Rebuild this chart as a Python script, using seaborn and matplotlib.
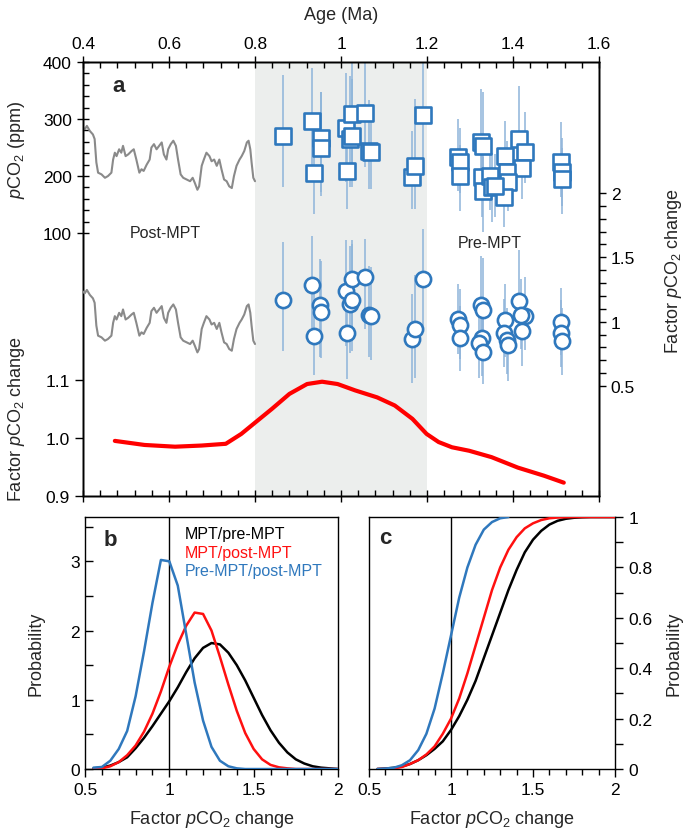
#!/usr/bin/env python3
"""
pCO2 across the Mid-Pleistocene Transition (panels a, b, c).
Values were read off the reference figure by eye.
"""

import matplotlib
matplotlib.use("Agg")
import matplotlib.pyplot as plt
import matplotlib.ticker as mticker
import seaborn as sns


# Global style
sns.set_theme(style="ticks")
plt.rcParams["font.family"] = ["Liberation Sans", "DejaVu Sans"]
plt.rcParams["mathtext.fontset"] = "custom"
plt.rcParams["mathtext.rm"] = "Liberation Sans"
plt.rcParams["mathtext.it"] = "Liberation Sans:italic"
plt.rcParams["axes.edgecolor"] = "black"
plt.rcParams["axes.linewidth"] = 1.0
plt.rcParams["xtick.color"] = "black"
plt.rcParams["ytick.color"] = "black"

BLUE = "#2f78bd"
ERR_BLUE = "#8eb4da"
GREY = "#8a8a8a"
SHADE = "#eceeed"

# ---- ice core record (0.4-0.8 Ma) ----
ICE_AGE = [0.400, 0.404, 0.409, 0.416, 0.423, 0.427, 0.431, 0.435, 0.443, 0.451,
           0.458, 0.466, 0.470, 0.474, 0.478, 0.484, 0.489, 0.493, 0.499, 0.505,
           0.513, 0.518, 0.524, 0.531, 0.536, 0.541, 0.548, 0.555, 0.559, 0.565,
           0.571, 0.577, 0.583, 0.588, 0.594, 0.598, 0.604, 0.610, 0.616, 0.621,
           0.627, 0.633, 0.641, 0.649, 0.655, 0.660, 0.666, 0.670, 0.676, 0.681,
           0.687, 0.694, 0.699, 0.705, 0.711, 0.717, 0.722, 0.728, 0.734, 0.740,
           0.746, 0.751, 0.757, 0.764, 0.769, 0.775, 0.781, 0.785, 0.789, 0.792,
           0.796, 0.800]
ICE_PCO2 = [285, 282, 288, 279, 273, 265, 224, 206, 203, 197,
            200, 206, 229, 241, 235, 247, 241, 253, 235, 238,
            244, 247, 229, 206, 212, 209, 220, 229, 250, 256,
            247, 253, 259, 238, 229, 247, 256, 262, 253, 229,
            203, 197, 194, 191, 197, 188, 176, 182, 218, 229,
            241, 235, 226, 229, 218, 229, 212, 194, 191, 182,
            179, 200, 218, 229, 235, 244, 259, 262, 247, 224,
            197, 191]
POST_MPT_MEAN = 231  # ppm, normaliser of the factor-change axis

# ---- boron pCO2 (squares) ----
B_AGE = [0.864, 0.933, 0.953, 0.953, 0.937, 1.011, 1.025, 1.020, 1.026, 1.015,
         1.055, 1.064, 1.069, 1.164, 1.171, 1.190, 1.271, 1.277, 1.277, 1.326,
         1.331, 1.327, 1.331, 1.347, 1.350, 1.381, 1.414, 1.428, 1.422, 1.385,
         1.389, 1.379, 1.358, 1.512, 1.513, 1.515]
B_PCO2 = [271, 297, 267, 249, 205, 285, 308, 265, 270, 209,
          311, 244, 242, 199, 218, 307, 234, 225, 200, 260,
          253, 199, 174, 200, 180, 236, 265, 243, 214, 207,
          189, 164, 183, 224, 207, 195]
B_ERR_UP = [106, 92, 80, 98, 85, 95, 90, 110, 100, 80,
            89, 90, 85, 80, 117, 93, 66, 60, 55, 93,
            95, 60, 60, 65, 60, 60, 93, 70, 60, 55,
            55, 50, 55, 71, 60, 55]
B_ERR_DN = [90, 90, 95, 84, 72, 95, 110, 85, 90, 67,
            95, 67, 65, 57, 76, 100, 60, 55, 61, 50,
            55, 70, 72, 60, 60, 55, 50, 55, 55, 60,
            50, 54, 55, 60, 60, 62]

# ---- factor pCO2 change (circles) ----
F_AGE = [0.864, 0.932, 0.952, 0.953, 0.937, 1.011, 1.025, 1.020, 1.026, 1.015,
         1.055, 1.064, 1.069, 1.164, 1.171, 1.190,
         1.271, 1.277, 1.277, 1.326, 1.331, 1.327, 1.322, 1.331,
         1.381, 1.379, 1.385, 1.389, 1.414, 1.428, 1.419, 1.422,
         1.511, 1.511, 1.513]
F_VAL = [1.171, 1.287, 1.126, 1.075, 0.889, 1.235, 1.328, 1.140, 1.171, 0.915,
         1.344, 1.054, 1.044, 0.868, 0.940, 1.328,
         1.023, 0.977, 0.874, 1.132, 1.093, 0.876, 0.835, 0.765,
         1.010, 0.915, 0.855, 0.822, 1.157, 1.044, 1.050, 0.925,
         0.995, 0.910, 0.853]
F_ERR_UP = [0.45, 0.38, 0.36, 0.40, 0.35, 0.40, 0.31, 0.45, 0.43, 0.35,
            0.30, 0.38, 0.38, 0.35, 0.42, 0.39,
            0.27, 0.28, 0.25, 0.38, 0.40, 0.28, 0.26, 0.27,
            0.28, 0.26, 0.25, 0.24, 0.40, 0.30, 0.28, 0.26,
            0.27, 0.26, 0.25]
F_ERR_DN = [0.40, 0.38, 0.40, 0.36, 0.30, 0.42, 0.45, 0.38, 0.40, 0.36,
            0.40, 0.33, 0.34, 0.34, 0.38, 0.37,
            0.27, 0.27, 0.26, 0.26, 0.27, 0.30, 0.27, 0.25,
            0.28, 0.27, 0.26, 0.28, 0.28, 0.26, 0.26, 0.27,
            0.25, 0.26, 0.27]

# ---- smoothed factor change (red) ----
R_AGE = [0.474, 0.543, 0.614, 0.676, 0.732, 0.768, 0.801, 0.839, 0.880, 0.921,
         0.956, 0.992, 1.033, 1.084, 1.125, 1.166, 1.199, 1.227, 1.258, 1.298,
         1.350, 1.411, 1.472, 1.518]
R_VAL = [0.995, 0.988, 0.985, 0.987, 0.990, 1.007, 1.027, 1.050, 1.076, 1.093,
         1.097, 1.093, 1.082, 1.070, 1.056, 1.033, 1.007, 0.993, 0.984, 0.978,
         0.967, 0.949, 0.935, 0.923]

# ---- panels b and c ----
FACTOR = [0.55, 0.60, 0.65, 0.70, 0.75, 0.80, 0.85, 0.90, 0.95, 1.00,
          1.05, 1.10, 1.15, 1.20, 1.25, 1.30, 1.35, 1.40, 1.45, 1.50,
          1.55, 1.60, 1.65, 1.70, 1.75, 1.80, 1.85, 1.90, 1.95, 2.00]
PDF_MPT_PRE = [0.01, 0.02, 0.05, 0.10, 0.17, 0.30, 0.45, 0.62, 0.80, 0.98,
               1.18, 1.40, 1.60, 1.75, 1.82, 1.80, 1.68, 1.50, 1.28, 1.03,
               0.78, 0.56, 0.38, 0.24, 0.14, 0.08, 0.04, 0.02, 0.01, 0.00]
PDF_MPT_POST = [0.00, 0.01, 0.04, 0.10, 0.20, 0.34, 0.54, 0.80, 1.12, 1.48,
                1.80, 2.07, 2.26, 2.24, 2.00, 1.62, 1.22, 0.84, 0.52, 0.29,
                0.14, 0.06, 0.025, 0.01, 0.00, 0.00, 0.00, 0.00, 0.00, 0.00]
PDF_PRE_POST = [0.02, 0.03, 0.12, 0.29, 0.55, 1.05, 1.70, 2.40, 3.02, 3.00,
                2.65, 1.95, 1.25, 0.70, 0.32, 0.12, 0.04, 0.01, 0.00, 0.00,
                0.00, 0.00, 0.00, 0.00, 0.00, 0.00, 0.00, 0.00, 0.00, 0.00]
CDF_MPT_PRE = [0.0, 0.002, 0.005, 0.01, 0.02, 0.035, 0.055, 0.08, 0.11, 0.155,
               0.21, 0.275, 0.35, 0.44, 0.53, 0.62, 0.71, 0.79, 0.86, 0.91,
               0.945, 0.97, 0.985, 0.993, 0.997, 0.999, 1.0, 1.0, 1.0, 1.0]
CDF_MPT_POST = [0.0, 0.001, 0.003, 0.008, 0.02, 0.035, 0.058, 0.09, 0.14, 0.20,
                0.28, 0.38, 0.49, 0.60, 0.71, 0.80, 0.87, 0.92, 0.955, 0.975,
                0.988, 0.995, 0.998, 0.999, 1.0, 1.0, 1.0, 1.0, 1.0, 1.0]
CDF_PRE_POST = [0.0, 0.002, 0.005, 0.015, 0.035, 0.075, 0.14, 0.24, 0.38, 0.53,
                0.68, 0.80, 0.89, 0.95, 0.98, 0.995, 1.0]

SERIES = [
    ("MPT/pre-MPT", "black", PDF_MPT_PRE, CDF_MPT_PRE),
    ("MPT/post-MPT", "#ff1010", PDF_MPT_POST, CDF_MPT_POST),
    ("Pre-MPT/post-MPT", BLUE, PDF_PRE_POST, CDF_PRE_POST),
]

FACTOR_LABEL = r"Factor $p$CO$_2$ change"
fmt_g = mticker.FuncFormatter(lambda v, _: f"{v:g}")


def line(ax, x, y, color, lw, z=3):
    sns.lineplot(x=x, y=y, ax=ax, color=color, linewidth=lw, sort=False,
                 estimator=None, zorder=z)


fig = plt.figure(figsize=(6.85, 8.37), dpi=100)

# Panel a
ax_a = fig.add_axes([0.1212, 0.4062, 0.7533, 0.5185])
ax_f = ax_a.twinx()
ax_r = ax_a.twinx()

ax_a.axvspan(0.8, 1.2, color=SHADE, zorder=0, lw=0)
line(ax_a, ICE_AGE, ICE_PCO2, GREY, 1.5)
ax_a.vlines(B_AGE, [p - d for p, d in zip(B_PCO2, B_ERR_DN)],
            [p + u for p, u in zip(B_PCO2, B_ERR_UP)],
            color=ERR_BLUE, lw=1.1, zorder=2)
sns.scatterplot(x=B_AGE, y=B_PCO2, ax=ax_a, marker="s", s=135, color="white",
                edgecolor=BLUE, linewidth=1.9, zorder=4)

ice_factor = [v / POST_MPT_MEAN for v in ICE_PCO2]
line(ax_r, ICE_AGE, ice_factor, GREY, 1.5)
ax_r.vlines(F_AGE, [v - d for v, d in zip(F_VAL, F_ERR_DN)],
            [v + u for v, u in zip(F_VAL, F_ERR_UP)],
            color=ERR_BLUE, lw=1.1, zorder=2)
sns.scatterplot(x=F_AGE, y=F_VAL, ax=ax_r, marker="o", s=120, color="white",
                edgecolor=BLUE, linewidth=1.9, zorder=4)

line(ax_f, R_AGE, R_VAL, "#ff0000", 3.0)

ax_a.set_xlim(0.4, 1.6)
ax_a.set_ylim(-361, 400)
ax_f.set_ylim(0.9, 1.648)
ax_r.set_ylim(-0.353, 3.016)

ax_a.xaxis.set_major_locator(mticker.FixedLocator([0.4, 0.6, 0.8, 1.0, 1.2, 1.4, 1.6]))
ax_a.xaxis.set_minor_locator(mticker.MultipleLocator(0.04))
ax_a.xaxis.set_major_formatter(fmt_g)
ax_a.tick_params(axis="x", which="both", top=True, bottom=True,
                 labeltop=True, labelbottom=False, labelsize=12.5)
ax_a.tick_params(axis="x", which="major", direction="inout", length=9, width=1)
ax_a.tick_params(axis="x", which="minor", direction="in", length=4, width=1)
ax_a.xaxis.set_label_position("top")
ax_a.set_xlabel("Age (Ma)", fontsize=13, labelpad=12)

ax_a.yaxis.set_major_locator(mticker.FixedLocator([100, 200, 300, 400]))
ax_a.yaxis.set_minor_locator(mticker.FixedLocator(list(range(100, 401, 20))))
ax_a.tick_params(axis="y", which="both", left=True, right=False, labelsize=12.5)
ax_a.tick_params(axis="y", which="major", direction="inout", length=9, width=1)
ax_a.tick_params(axis="y", which="minor", direction="in", length=4, width=1)
ax_a.set_ylabel(r"$p$CO$_2$ (ppm)", fontsize=13)
ax_a.yaxis.set_label_coords(-0.108, 0.80)

ax_f.yaxis.tick_left()
ax_f.yaxis.set_label_position("left")
ax_f.yaxis.set_major_locator(mticker.FixedLocator([0.9, 1.0, 1.1]))
ax_f.yaxis.set_major_formatter(mticker.FormatStrFormatter("%.1f"))
ax_f.tick_params(axis="y", which="major", direction="out", length=6, width=1,
                 labelsize=12.5)
ax_f.set_ylabel(FACTOR_LABEL, fontsize=13)
ax_f.yaxis.set_label_coords(-0.108, 0.18)

ax_r.yaxis.set_major_locator(mticker.FixedLocator([0.5, 1.0, 1.5, 2.0]))
ax_r.yaxis.set_minor_locator(mticker.FixedLocator([0.5 + 0.1 * i for i in range(16)]))
ax_r.yaxis.set_major_formatter(fmt_g)
ax_r.tick_params(axis="y", which="both", direction="out", length=5, width=1,
                 labelsize=12.5)
ax_r.set_ylabel(FACTOR_LABEL, fontsize=13)
ax_r.yaxis.set_label_coords(1.124, 0.52)

for a in (ax_a, ax_f, ax_r):
    a.grid(False)

ax_a.text(0.068, 0.945, "a", transform=ax_a.transAxes, fontsize=16,
          fontweight="bold", ha="center", va="center")
ax_a.text(0.159, 0.608, "Post-MPT", transform=ax_a.transAxes, fontsize=11.5,
          ha="center", va="center")
ax_a.text(0.789, 0.585, "Pre-MPT", transform=ax_a.transAxes, fontsize=11.5,
          ha="center", va="center")

# Panel b: probability densities
ax_b = fig.add_axes([0.1241, 0.0800, 0.3693, 0.3011])
ax_b.axvline(1.0, color="black", lw=1.0, zorder=1)
for name, color, pdf, _ in SERIES:
    line(ax_b, FACTOR[:len(pdf)], pdf, color, 1.8)
ax_b.set_xlim(0.5, 2.0)
ax_b.set_ylim(0, 3.64)
ax_b.xaxis.set_major_locator(mticker.MultipleLocator(0.5))
ax_b.xaxis.set_minor_locator(mticker.MultipleLocator(0.1))
ax_b.xaxis.set_major_formatter(fmt_g)
ax_b.yaxis.set_major_locator(mticker.MultipleLocator(1))
ax_b.yaxis.set_minor_locator(mticker.MultipleLocator(0.5))
ax_b.tick_params(axis="x", which="major", direction="out", length=6, width=1,
                 labelsize=12.5)
ax_b.tick_params(axis="x", which="minor", direction="out", length=4, width=1)
ax_b.tick_params(axis="y", which="both", direction="in", length=6, width=1,
                 labelsize=12.5)
ax_b.set_xlabel(FACTOR_LABEL, fontsize=13, labelpad=8)
ax_b.set_ylabel("Probability", fontsize=13)
ax_b.yaxis.set_label_coords(-0.16, 0.46)
ax_b.text(0.10, 0.91, "b", transform=ax_b.transAxes, fontsize=16,
          fontweight="bold", ha="center", va="center")
for (name, color, _, _), ypos in zip(SERIES, [0.933, 0.861, 0.786]):
    ax_b.text(0.395, ypos, name, transform=ax_b.transAxes, color=color,
              fontsize=11.5, ha="left", va="center")

# Panel c: cumulative probability
ax_c = fig.add_axes([0.5387, 0.0800, 0.3591, 0.3011])
ax_c.axvline(1.0, color="black", lw=1.0, zorder=1)
for name, color, _, cdf in SERIES:
    line(ax_c, FACTOR[:len(cdf)], cdf, color, 1.8)
ax_c.set_xlim(0.5, 2.0)
ax_c.set_ylim(0, 1)
ax_c.xaxis.set_major_locator(mticker.MultipleLocator(0.5))
ax_c.xaxis.set_minor_locator(mticker.MultipleLocator(0.1))
ax_c.xaxis.set_major_formatter(fmt_g)
ax_c.yaxis.tick_right()
ax_c.yaxis.set_label_position("right")
ax_c.yaxis.set_major_locator(mticker.MultipleLocator(0.2))
ax_c.yaxis.set_minor_locator(mticker.MultipleLocator(0.1))
ax_c.yaxis.set_major_formatter(fmt_g)
ax_c.tick_params(axis="x", which="major", direction="out", length=6, width=1,
                 labelsize=12.5)
ax_c.tick_params(axis="x", which="minor", direction="out", length=4, width=1)
ax_c.tick_params(axis="y", which="both", direction="out", length=6, width=1,
                 labelsize=12.5)
ax_c.set_xlabel(FACTOR_LABEL, fontsize=13, labelpad=8)
ax_c.set_ylabel("Probability", fontsize=13)
ax_c.yaxis.set_label_coords(1.205, 0.46)
ax_c.text(0.065, 0.92, "c", transform=ax_c.transAxes, fontsize=16,
          fontweight="bold", ha="center", va="center")

for a in (ax_b, ax_c):
    a.grid(False)

fig.savefig("out.png", dpi=100)
plt.close(fig)
